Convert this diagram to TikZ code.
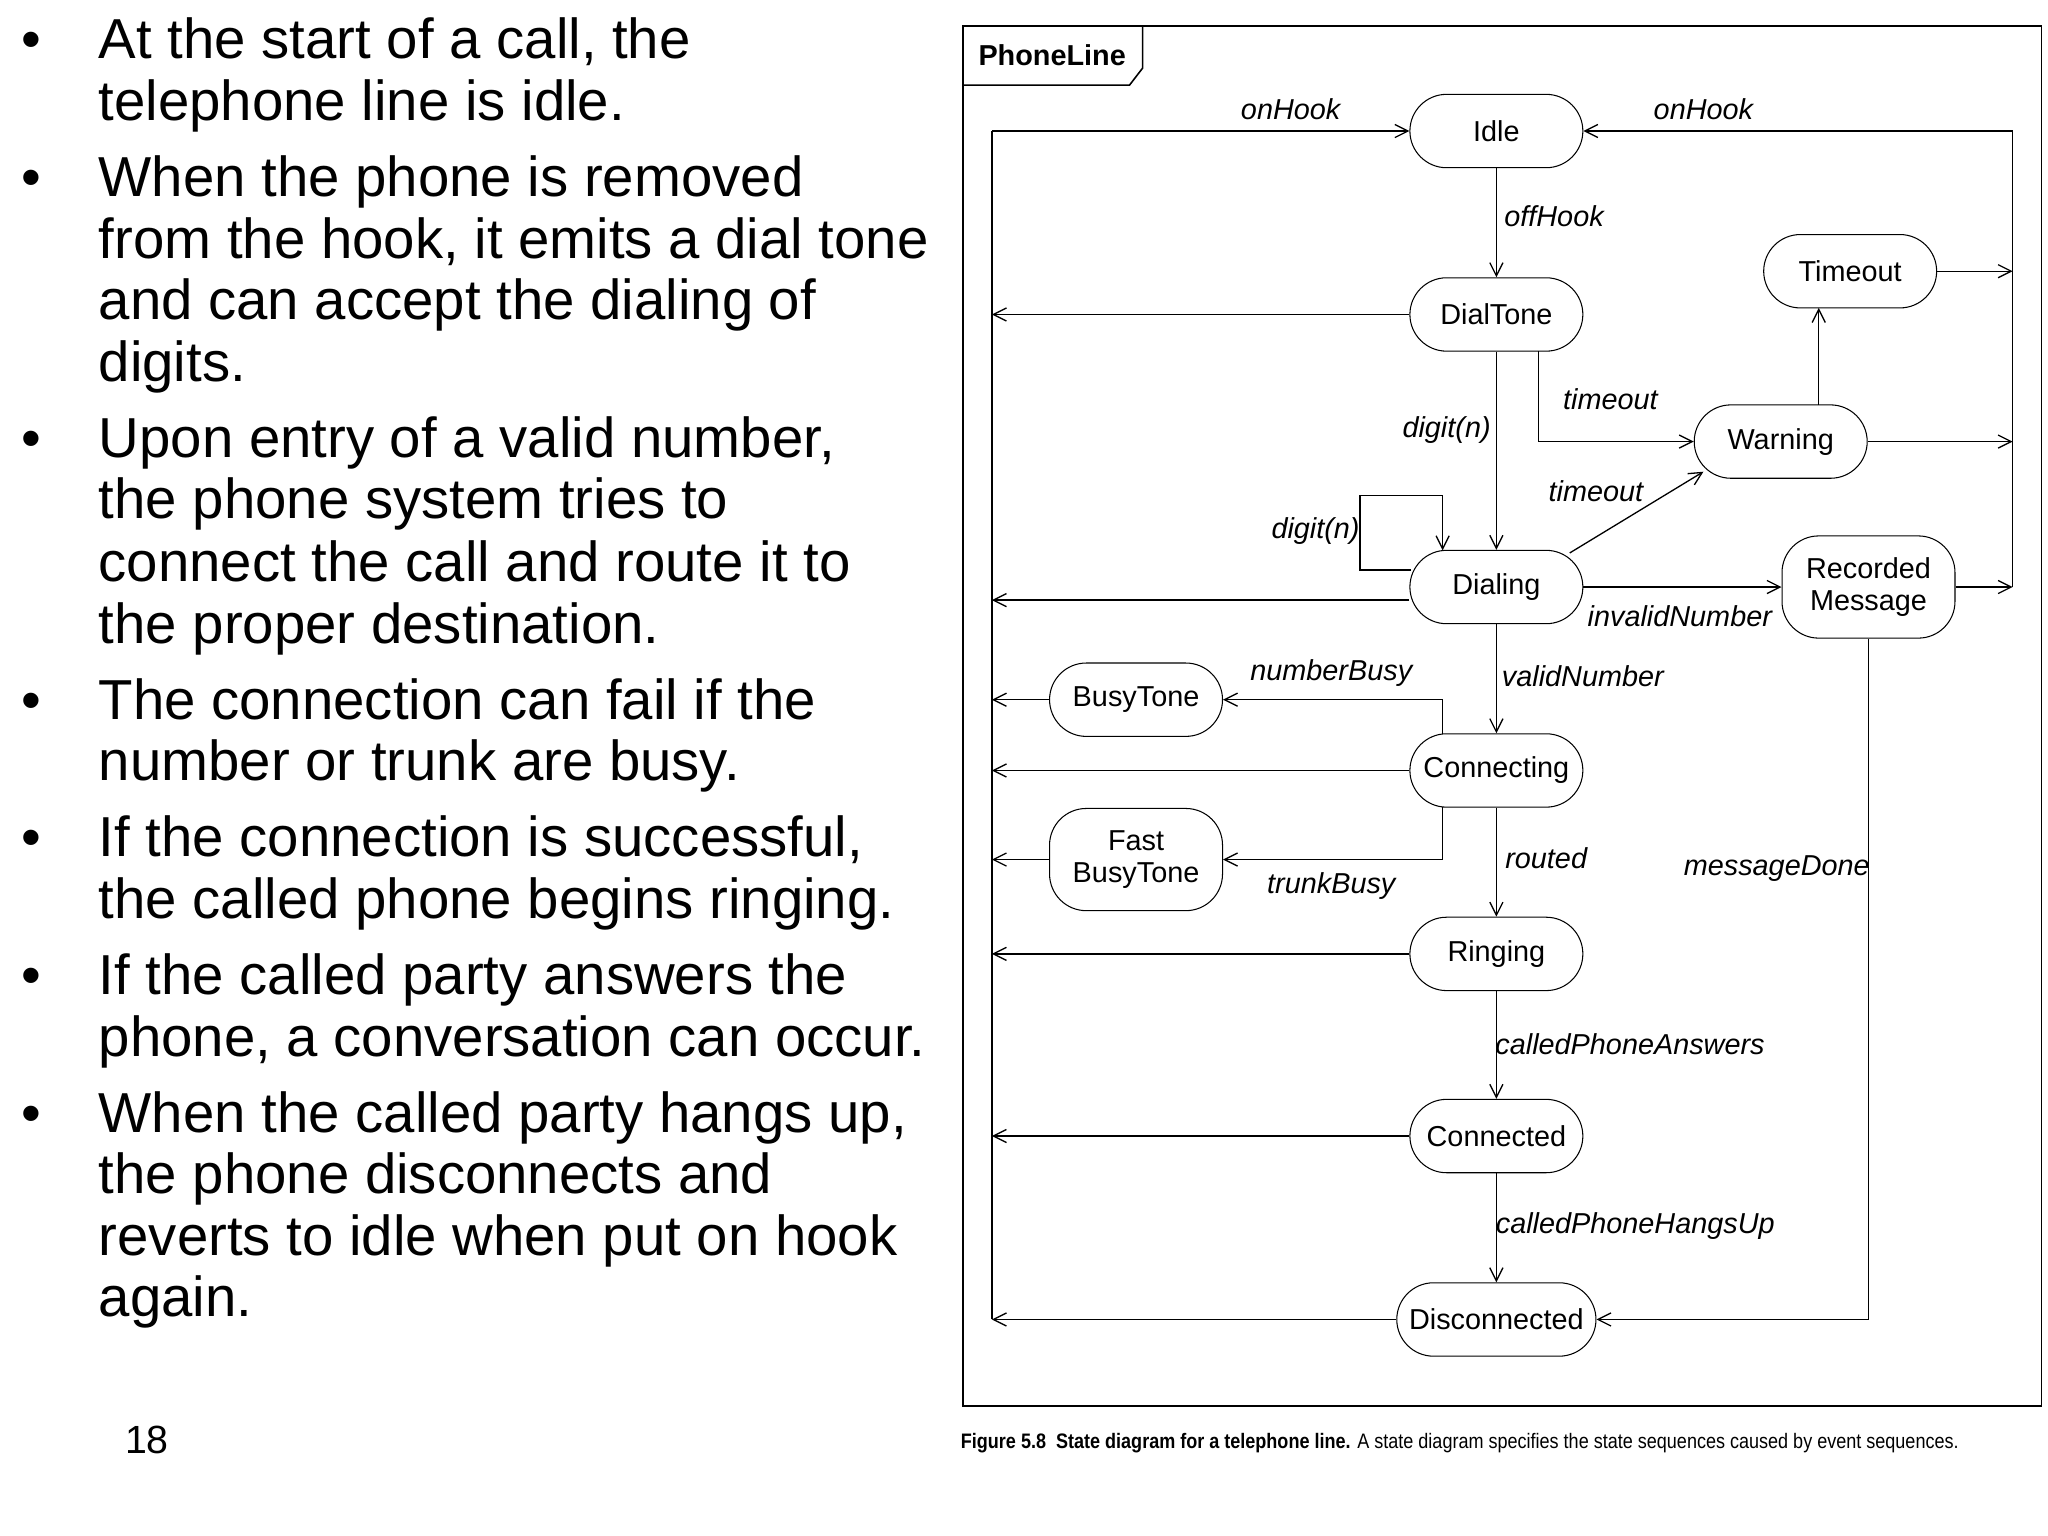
\documentclass[tikz,border=0pt]{standalone}
\usepackage{fontspec}
\setmainfont{Liberation Sans}
\usetikzlibrary{arrows.meta}
\begin{document}
\begin{tikzpicture}[x=0.5pt,y=-0.5pt,
 st/.style={draw,rounded corners=14pt,minimum width=66pt,minimum height=28pt,font=\fontsize{11}{11}\selectfont,align=center,inner sep=1pt},
 ed/.style={draw,-{Straight Barb[length=5pt,width=5pt]},line width=0.5pt},
 lb/.style={font=\fontsize{11}{12}\selectfont\itshape,inner sep=0},
 bl/.style={anchor=base west,font=\fontsize{21.5}{24}\selectfont,inner sep=0}]
\useasboundingbox (0,0) rectangle (1563,1172);
% bullets
\foreach \y/\t in {31/{At the start of a call, the},78/{telephone line is idle.},
136/{When the phone is removed},183/{from the hook, it emits a dial tone},230/{and can accept the dialing of},277/{digits.},
335/{Upon entry of a valid number,},382/{the phone system tries to},430/{connect the call and route it to},477/{the proper destination.},
535/{The connection can fail if the},582/{number or trunk are busy.},
640/{If the connection is successful,},687/{the called phone begins ringing.},
745/{If the called party answers the},792/{phone, a conversation can occur.},
850/{When the called party hangs up,},897/{the phone disconnects and},944/{reverts to idle when put on hook},991/{again.}}
 \node[bl] (t\y) at (75,\y+14) {\t};
\foreach \y in {31,136,335,535,640,745,850}
 \node[bl] (b\y) at (16,\y+14) {•};
\node[anchor=base west,font=\fontsize{15}{18}\selectfont,inner sep=0] (pg) at (95,1109) {18};
% frame
\draw[line width=0.6pt] (735,20) rectangle (1558,1073);
\draw[line width=0.6pt] (735,65) -- (862,65) -- (872,52) -- (872,20);
\node[font=\fontsize{11}{12}\selectfont\bfseries] (pl) at (803,42) {PhoneLine};
% states
\node[st] (idle) at (1142,100) {Idle};
\node[st] (dial) at (1142,240) {DialTone};
\node[st] (tmo) at (1412,207) {Timeout};
\node[st] (warn) at (1359,337) {Warning};
\node[st] (dlg) at (1142,448) {Dialing};
\node[st,minimum height=39pt] (rec) at (1426,448) {Recorded\\[1pt]Message};
\node[st] (busy) at (867,534) {BusyTone};
\node[st] (conn) at (1142,588) {Connecting};
\node[st,minimum height=39pt] (fast) at (867,656) {Fast\\[1pt]BusyTone};
\node[st] (ring) at (1142,728) {Ringing};
\node[st] (cted) at (1142,867) {Connected};
\node[st,minimum width=76pt] (disc) at (1142,1007) {Disconnected};
% coordinates
\coordinate (L1) at (757,100);
\coordinate (L2) at (757,1007);
\coordinate (R1) at (1536,100);
\coordinate (R2) at (1536,448);
\draw[line width=0.5pt] (L2) -- (L1);
\draw[ed] (L1) -- (idle.west);
\node[lb] (l1) at (985,83) {onHook};
\draw[line width=0.5pt] (R2) -- (R1);
\draw[ed] (R1) -- (idle.east);
\node[lb] (l2) at (1300,83) {onHook};
\foreach \n in {tmo,warn,rec} \draw[ed] (\n.east) -- (\n.east -| R1);
\foreach \n in {dial,conn,ring,cted,disc,busy,fast} \draw[ed] (\n.west) -- (\n.west -| L1);
\draw[ed] ([yshift=-5pt]dlg.west) -- ([yshift=-5pt]dlg.west -| L1);
% main chain
\draw[ed] (idle) -- (dial);
\node[lb] (l3) at (1186,165) {offHook};
\draw[ed] (dial) -- (dlg);
\node[lb] (l4) at (1104,328) {digit(n)};
\draw[ed] (dlg) -- (conn);
\node[lb] (l5) at (1208,516) {validNumber};
\draw[ed] (conn) -- (ring);
\node[lb] (l6) at (1180,655) {routed};
\draw[ed] (ring) -- (cted);
\node[lb] (l7) at (1244,797) {calledPhoneAnswers};
\draw[ed] (cted) -- (disc);
\node[lb] (l8) at (1248,936) {calledPhoneHangsUp};
% timeouts
\draw[ed] (1174,268) |- (warn.west);
\node[lb] (l9) at (1229,305) {timeout};
\draw[ed] (1388,309) -- (1388,235);
\draw[ed] (1198,422) -- (1300,360);
\node[lb] (l10) at (1218,375) {timeout};
% self loop
\draw[ed] (1077,435) -- (1038,435) -- (1038,378) -- (1101,378) -- (1101,420);
\node[lb] (dn) at (1004,405) {digit(n)};
\draw[ed] (dlg.east) -- (rec.west);
\node[lb] (l11) at (1282,470) {invalidNumber};
% busy
\draw[ed] (1101,560) |- (busy.east);
\node[lb] (l12) at (1016,514) {numberBusy};
\draw[ed] (1101,616) |- (fast.east);
\node[lb] (l13) at (1016,676) {trunkBusy};
% message done
\draw[ed] (rec.south) |- (disc.east);
\node[lb] (l14) at (1356,663) {messageDone};
% caption
\node[anchor=west,inner sep=0,font=\fontsize{8}{9}\selectfont,xscale=0.86] (cap) at (733,1101) {\textbf{Figure 5.8\ \ State diagram for a telephone line.} A state diagram specifies the state sequences caused by event sequences.};
\end{tikzpicture}
\end{document}
